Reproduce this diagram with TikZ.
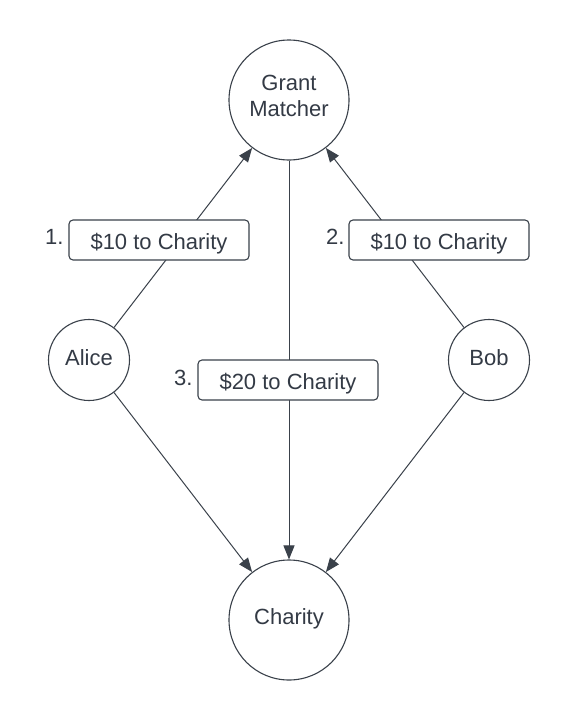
\documentclass[tikz,border=0pt]{standalone}
\usepackage{fontspec}
\setmainfont{Liberation Sans}
\usetikzlibrary{arrows.meta}
\definecolor{linecol}{HTML}{3A414A}
\definecolor{textcol}{HTML}{333A45}
\begin{document}
\begin{tikzpicture}[x=1pt,y=-1pt,
  every node/.style={font=\fontsize{22}{26}\selectfont, text=textcol},
  party/.style={circle, draw=linecol, line width=1.1pt, inner sep=0pt, fill=white},
  big/.style={party, minimum size=120pt},
  small/.style={party, minimum size=81pt},
  onetext/.style={text height=16pt, text depth=5pt},
  payment/.style={draw=linecol, line width=1.1pt, fill=white, rounded corners=4pt,
    minimum width=180pt, minimum height=40pt, inner sep=0pt, text height=19pt, text depth=0pt},
  numlabel/.style={inner sep=0pt, anchor=base west},
  flow/.style={draw=linecol, line width=1pt, -{Triangle[length=14pt,width=11pt]}}
]
\useasboundingbox[fill=white] (0,0) rectangle (569,720);

% participants
\node[big, align=center] (grant) at (289,100) {Grant\\Matcher\rule[-8pt]{0pt}{8pt}};
\node[small, onetext] (alice) at (89,360) {Alice};
\node[small, onetext] (bob) at (489,360) {Bob};
\node[big, onetext, text depth=7pt] (charity) at (289,620) {Charity};

% flows
\draw[flow] (alice) -- (grant);
\draw[flow] (bob) -- (grant);
\draw[flow] (grant) -- (charity);
\draw[flow] (alice) -- (charity);
\draw[flow] (bob) -- (charity);

% payments
\node[payment] (pay1) at (159,240) {\$10 to Charity};
\node[payment] (pay2) at (439,240) {\$10 to Charity};
\node[payment] (pay3) at (288,380) {\$20 to Charity};

\node[numlabel] (n1) at (45,244) {1.};
\node[numlabel] (n2) at (326,244) {2.};
\node[numlabel] (n3) at (174,385) {3.};
\end{tikzpicture}
\end{document}
